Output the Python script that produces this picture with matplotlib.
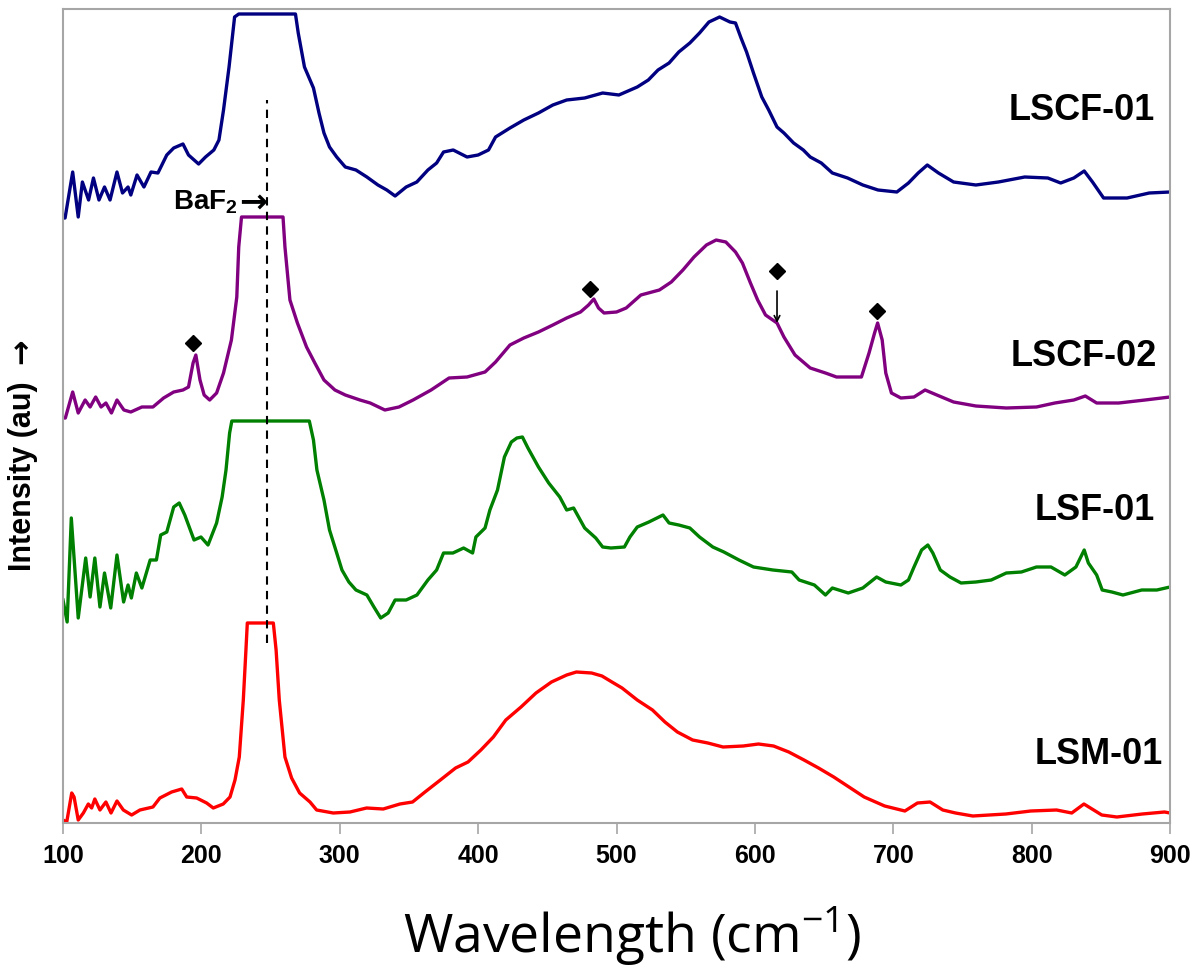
import matplotlib
matplotlib.use('Agg')
import matplotlib.pyplot as plt

# spectra (x in cm-1, intensity in arbitrary units)
lscf01_x = [100, 101.5, 107, 111, 114, 118.5, 122, 126, 130, 134, 139, 143, 147, 149, 153.5, 158.5, 163.6,
            168.6, 175, 180, 186.7, 190.7, 198, 203, 209, 212.7, 216, 220, 224, 227, 268, 270, 274.5, 281,
            285, 288.6, 292.6, 297.8, 304, 311.7, 319.6, 327.6, 334, 340, 348, 355.7, 363.7, 370, 375, 382,
            392, 400, 407.5, 412.6, 423, 433, 443.6, 454, 464, 477, 490, 501.7, 515, 523, 530, 538, 545,
            553, 560, 566.8, 574.5, 582, 586, 590, 594, 599, 605, 610, 616, 621, 628, 635, 640, 648, 656,
            667, 678, 689, 702.6, 711, 718, 724.6, 732.7, 743.6, 759.7, 776, 795, 811.7, 821, 830.5, 838,
            844, 852, 869, 885, 900]
lscf01_y = [605, 605, 651, 606, 641, 623, 645, 623, 636, 623, 651, 630, 636, 628, 648, 636, 651,
            650, 668, 675, 679, 668, 659, 666, 673, 683, 713, 756, 806, 809, 809, 790, 756, 735,
            710, 690, 676, 666, 656, 653, 646, 638, 633, 627, 636, 641, 653, 660, 671, 673,
            666, 668, 673, 686, 695, 703, 710, 718, 723, 725, 730, 728, 736, 743, 753, 760, 771,
            780, 790, 801, 806, 801, 800, 785, 771, 750, 726, 713, 696, 690, 680, 673, 666, 660, 650,
            645, 638, 633, 631, 640, 650, 658, 650, 641, 638, 641, 646, 645, 640, 645, 652,
            641, 625, 625, 630, 631]

lscf02_x = [100, 101.7, 107, 111, 116, 119.6, 123.6, 127.5, 131, 135, 139, 144, 149, 157, 165, 172.7, 180,
            186.7, 190.7, 194, 196, 199, 202, 206, 211, 216, 221.7, 225.6, 227, 229, 259, 260.4, 264,
            269.4, 276, 282, 288.6, 296.5, 304, 314.6, 322, 332.6, 342.8, 353, 366, 379, 392, 405,
            412.6, 423, 433, 443.6, 454, 464, 474, 479.8, 483.6, 487, 491, 500, 507, 517.6, 531, 539.6,
            548, 556, 565, 572, 579, 586, 591, 596.8, 602, 607.7, 616, 621, 629, 640, 651, 659, 677,
            682.5, 686.5, 688.7, 692, 694.6, 698.7, 705.5, 715, 723, 731.5, 743.6, 759.7, 781.7, 803.5,
            816.8, 830.5, 838.8, 847, 863, 882, 900]
lscf02_y = [405, 405, 431, 410, 423, 416, 426, 416, 420, 410, 423, 413, 411, 416, 416, 425, 431,
            433, 436, 460, 468, 443, 428, 423, 430, 450, 483, 526, 576, 606, 606, 576, 523,
            500, 476, 460, 443, 433, 428, 423, 420, 413, 416, 423, 433, 445, 446, 451,
            461, 478, 485, 491, 498, 505, 511, 518, 524, 515, 510, 511, 515, 528, 533, 541,
            553, 566, 578, 583, 581, 571, 560, 540, 523, 508, 500, 486, 468, 455, 450, 446, 446,
            470, 490, 500, 483, 450, 430, 425, 426, 433, 428, 421, 417, 415, 416,
            420, 423, 427, 420, 420, 423, 426]

lsf01_x = [100, 103, 106, 111, 116.4, 119.6, 123, 126.7, 130, 134.5, 139, 143.8, 147, 149.4, 153, 157,
           163, 167.5, 170.6, 175, 180, 184, 188, 194.7, 199.7, 204.8, 211, 215, 217.8, 220.4, 222,
           278, 281, 283.5, 288.6, 292.6, 297.8, 301.6, 306.6, 311.7, 319.6, 324.7, 329.6, 335, 340,
           348, 355.8, 363.7, 370, 375, 381.8, 389.5, 396, 398.4, 405, 408.5, 414, 419, 424, 428, 432,
           436, 443.6, 451, 459, 464, 469, 477, 485, 490, 496, 505.7, 509.7, 515, 523.4, 533.6, 538,
           545, 553, 560, 569.6, 577.6, 588.5, 599, 613, 626.7, 632, 643, 651, 656, 667.5, 678, 688,
           694.6, 705.5, 711, 715, 720.5, 725, 728.6, 734, 741, 749, 759.7, 770.8, 781.7, 792.6,
           803.5, 814, 824, 832, 838, 841, 847, 851, 858, 866, 879.6, 890.5, 900]
lsf01_y = [223, 201, 305, 205, 265, 226, 265, 216, 250, 215, 268, 221, 238, 225, 250, 235,
           263, 263, 288, 291, 316, 320, 308, 283, 286, 278, 300, 326, 353, 390, 402,
           402, 383, 353, 323, 293, 270, 253, 241, 233, 228, 216, 205, 210, 223,
           223, 228, 243, 253, 270, 270, 275, 270, 286, 295, 313, 333, 366, 381, 385, 386,
           375, 356, 340, 326, 313, 315, 295, 285, 276, 275, 276, 286, 296, 301, 308, 300,
           298, 295, 286, 276, 271, 263, 256, 253, 251, 243, 238, 228, 235, 230, 235, 246,
           241, 238, 243, 256, 273, 278, 270, 253, 246, 240, 241, 243, 250, 251,
           256, 256, 248, 256, 273, 260, 248, 233, 231, 228, 233, 233, 236]

lsm01_x = [100, 102.7, 106.3, 108, 111, 114.7, 118.3, 120.7, 123, 126.7, 131, 134.7, 139, 143.6, 149.6,
           155.6, 165, 170, 178.5, 185.8, 189.4, 196.6, 203.8, 208.6, 215.8, 220.7, 224.3, 227.4, 230.3,
           232.2, 233.2, 252, 254, 256.3, 260.4, 265.2, 271, 278.5, 283.3, 295.3, 307.4, 319.4, 331.4,
           343.5, 352.6, 361.6, 372.7, 383.7, 392.7, 402, 411, 420, 431, 441.8, 453, 464, 471, 482,
           489.5, 496.7, 504, 515, 526, 535, 544, 555, 566, 577, 591.6, 602.6, 613.5, 624.5, 635.5,
           646, 657, 668, 679, 693.8, 708.4, 717.5, 726.6, 735.8, 745, 757.5, 781.4, 799.4, 818, 829,
           837.8, 850.7, 861.6, 880, 896, 900]
lsm01_y = [3, 1, 30, 26, 3, 10, 19, 15, 24, 13, 21, 10, 22, 13, 8,
           13, 16, 25, 31, 34, 26, 25, 20, 15, 19, 26, 43, 66, 123,
           173, 200, 200, 173, 123, 66, 45, 30, 21, 13, 10, 11, 15, 14,
           19, 21, 31, 43, 55, 61, 73, 86, 103, 116, 130, 141, 148, 151, 150,
           147, 141, 135, 123, 113, 101, 91, 83, 80, 76, 77, 79, 77, 71, 63,
           55, 46, 36, 26, 17, 12, 20, 21, 13, 10, 7, 9, 12, 13, 10,
           19, 8, 6, 9, 11, 10]

# marked peaks on LSCF-02 and the BaF2 line
diamond_x = [194, 481, 616, 688]
diamond_y = [480, 534, 552, 512]
baf2_x = 247.2
baf2_span = (180, 723)

plt.rcParams['font.family'] = ['Liberation Sans', 'DejaVu Sans']

fig = plt.figure(figsize=(11.92, 9.67), dpi=100)
ax = fig.add_axes([63 / 1192, 1 - 823 / 967, (1170 - 63) / 1192, (823 - 9) / 967])

ax.plot(lscf01_x, lscf01_y, color='#000080', lw=2.4)
ax.plot(lscf02_x, lscf02_y, color='#800080', lw=2.4)
ax.plot(lsf01_x, lsf01_y, color='#008000', lw=2.4)
ax.plot(lsm01_x, lsm01_y, color='#FF0000', lw=2.4)

ax.vlines(baf2_x, baf2_span[0], baf2_span[1], colors='black', linestyles=(0, (4, 3)), lw=1.5)
ax.plot(diamond_x, diamond_y, 'D', color='black', ms=8, ls='none')
ax.annotate('', xy=(616, 500), xytext=(616, 532),
            arrowprops=dict(arrowstyle='->', color='black', lw=1.2, shrinkA=0, shrinkB=0))

# BaF2 label with a heavy arrow pointing at the dashed line
ax.annotate('\u2192', xy=(baf2_x + 0.6, 621), ha='right', va='center', fontsize=24,
            fontweight='bold', family='DejaVu Sans')
ax.annotate('BaF$_{\\mathregular{2}}$', xy=(baf2_x, 621), xytext=(-21, 0), textcoords='offset points',
            ha='right', va='center', fontsize=20, fontweight='bold')

label_font = dict(fontsize=26, fontweight='bold', ha='right', va='center')
ax.text(889, 713, 'LSCF-01', **label_font)
ax.text(890.5, 466, 'LSCF-02', **label_font)
ax.text(889, 312, 'LSF-01', **label_font)
ax.text(894.5, 69, 'LSM-01', **label_font)

ax.set_xlim(100, 900)
ax.set_ylim(0, 814)
ax.set_xticks(range(100, 901, 100))
ax.set_yticks([])
for s in ax.spines.values():
    s.set_color('#A6A6A6')
    s.set_linewidth(1.5)
ax.tick_params(axis='x', direction='out', length=8, width=1.2, color='#A6A6A6', pad=7, labelsize=18)
for lbl in ax.get_xticklabels():
    lbl.set_fontweight('bold')

fig.text(632 / 1192, 14 / 967, 'Wavelength (cm$^{\\mathregular{-1}}$)', family='Open Sans', fontsize=38.5,
         ha='center', va='baseline')
fig.text(23 / 1192, 1 - 476 / 967, 'Intensity (au)', rotation=90, fontsize=22, fontweight='bold',
         ha='center', va='center')
fig.text(23 / 1192, 1 - 351 / 967, '\u2192', rotation=90, fontsize=22, fontweight='bold',
         family='DejaVu Sans', ha='center', va='center')

fig.savefig('out.png', dpi=100)
